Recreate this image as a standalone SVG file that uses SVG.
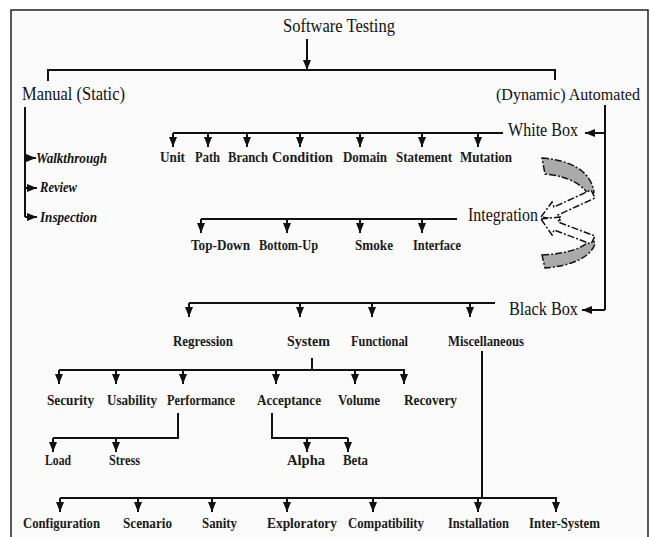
<svg xmlns="http://www.w3.org/2000/svg" width="650" height="537" viewBox="0 0 650 537">
<defs>
<style>
text{font-family:"Liberation Serif","Times New Roman",serif;fill:#111}
.h{font-size:19px}
.s{font-size:14px;font-weight:bold;fill:#1a1a1a}
.i{font-size:14px;font-weight:bold;font-style:italic}
.c{fill:none;stroke:#111;stroke-width:2}
.a{marker-end:url(#ah)}
.rib{fill:#aaa;stroke:#111;stroke-width:1.5;stroke-dasharray:7 2 2 2}
.wa{fill:#fff;stroke:#111;stroke-width:1.5;stroke-dasharray:7 2 2 2}
</style>
<marker id="ah" markerUnits="userSpaceOnUse" markerWidth="10" markerHeight="10" viewBox="0 0 10 10" refX="10" refY="5" orient="auto"><path d="M0,1 L10,5 L0,9 z" fill="#111"/></marker>
</defs>
<rect x="0" y="0" width="650" height="537" fill="#fff"/>
<rect x="11" y="10" width="637" height="540" fill="#fbfbfb" stroke="#222" stroke-width="1.5"/>

<g id="connectors">
<path class="c a" d="M307,39 V70"/>
<path class="c" d="M48,81 V70 H555 V80"/>
<path class="c" d="M25,107 V217"/>
<path class="c a" d="M25,158 H36"/>
<path class="c a" d="M25,188 H37"/>
<path class="c a" d="M25,217 H37"/>
<path class="c" d="M605,105 V310"/>
<path class="c a" d="M605,133 H585"/>
<path class="c a" d="M605,310 H582"/>
<path class="c" d="M173,133 H503"/>
<path class="c a" d="M173,133 V147"/>
<path class="c a" d="M208,133 V147"/>
<path class="c a" d="M247,133 V147"/>
<path class="c a" d="M300,133 V147"/>
<path class="c a" d="M360,133 V147"/>
<path class="c a" d="M422,133 V147"/>
<path class="c a" d="M478,133 V147"/>
<path class="c" d="M201,219 H457"/>
<path class="c a" d="M201,219 V233"/>
<path class="c a" d="M287,219 V233"/>
<path class="c a" d="M360,219 V233"/>
<path class="c a" d="M422,219 V233"/>
<path class="c" d="M189,303 H495"/>
<path class="c a" d="M189,303 V317"/>
<path class="c a" d="M300,303 V317"/>
<path class="c a" d="M372,303 V317"/>
<path class="c a" d="M470,303 V317"/>
<path class="c" d="M312,358 V370"/>
<path class="c" d="M59,370 H405"/>
<path class="c a" d="M59,370 V384"/>
<path class="c a" d="M116,370 V384"/>
<path class="c a" d="M183,370 V384"/>
<path class="c a" d="M276,370 V384"/>
<path class="c a" d="M355,370 V384"/>
<path class="c a" d="M404,370 V384"/>
<path class="c" d="M178,413 V438 H53"/>
<path class="c a" d="M53,438 V452"/>
<path class="c a" d="M116,438 V452"/>
<path class="c" d="M272,413 V438 H348"/>
<path class="c a" d="M307,438 V452"/>
<path class="c a" d="M348,438 V452"/>
<path class="c" d="M482,351 V498"/>
<path class="c" d="M60,498 H557"/>
<path class="c a" d="M60,498 V512"/>
<path class="c a" d="M138,498 V512"/>
<path class="c a" d="M212,498 V512"/>
<path class="c a" d="M287,498 V512"/>
<path class="c a" d="M373,498 V512"/>
<path class="c a" d="M478,498 V512"/>
<path class="c a" d="M556,498 V512"/>
</g>

<g id="integration-arrows">
<path class="rib" d="M542,158 C566,160 590,168 594,192 L590,198 C585,185 568,176 545,174 Z"/>
<path class="rib" d="M542,255 C566,254 588,248 592,236 L595,244 C590,258 570,266 545,268 Z"/>
<polygon class="wa" points="541,217 552,202 554,207 591,190 595,198 558,215 560,220"/>
<polygon class="wa" points="541,219 560,217 558,222 595,236 591,244 554,230 552,235"/>
</g>

<g id="software-testing"><text class="h" x="283" y="32" font-size="20" textLength="112" lengthAdjust="spacingAndGlyphs">Software Testing</text></g>
<g id="manual"><text class="h" x="22" y="100" textLength="103" lengthAdjust="spacingAndGlyphs">Manual (Static)</text></g>
<g id="automated"><text class="h" x="496" y="100" style="font-size:17px" textLength="144" lengthAdjust="spacingAndGlyphs">(Dynamic) Automated</text></g>
<g id="walkthrough"><text class="i" x="36" y="163" textLength="71" lengthAdjust="spacingAndGlyphs">Walkthrough</text></g>
<g id="review"><text class="i" x="40" y="192" textLength="37" lengthAdjust="spacingAndGlyphs">Review</text></g>
<g id="inspection"><text class="i" x="40" y="222" textLength="57" lengthAdjust="spacingAndGlyphs">Inspection</text></g>
<g id="white-box"><text class="h" x="508" y="136" textLength="70" lengthAdjust="spacingAndGlyphs">White Box</text></g>
<g id="unit"><text class="s" x="160" y="162" textLength="25" lengthAdjust="spacingAndGlyphs">Unit</text></g>
<g id="path"><text class="s" x="195" y="162" textLength="25" lengthAdjust="spacingAndGlyphs">Path</text></g>
<g id="branch"><text class="s" x="228" y="162" textLength="40" lengthAdjust="spacingAndGlyphs">Branch</text></g>
<g id="condition"><text class="s" x="272" y="162" textLength="61" lengthAdjust="spacingAndGlyphs">Condition</text></g>
<g id="domain"><text class="s" x="343" y="162" textLength="44" lengthAdjust="spacingAndGlyphs">Domain</text></g>
<g id="statement"><text class="s" x="396" y="162" textLength="56" lengthAdjust="spacingAndGlyphs">Statement</text></g>
<g id="mutation"><text class="s" x="460" y="162" textLength="52" lengthAdjust="spacingAndGlyphs">Mutation</text></g>
<g id="integration"><text class="h" x="468" y="221" textLength="70" lengthAdjust="spacingAndGlyphs">Integration</text></g>
<g id="top-down"><text class="s" x="191" y="250" textLength="59" lengthAdjust="spacingAndGlyphs">Top-Down</text></g>
<g id="bottom-up"><text class="s" x="259" y="250" textLength="59" lengthAdjust="spacingAndGlyphs">Bottom-Up</text></g>
<g id="smoke"><text class="s" x="355" y="250" textLength="38" lengthAdjust="spacingAndGlyphs">Smoke</text></g>
<g id="interface"><text class="s" x="413" y="250" textLength="48" lengthAdjust="spacingAndGlyphs">Interface</text></g>
<g id="black-box"><text class="h" x="509" y="315" textLength="69" lengthAdjust="spacingAndGlyphs">Black Box</text></g>
<g id="regression"><text class="s" x="173" y="346" textLength="60" lengthAdjust="spacingAndGlyphs">Regression</text></g>
<g id="system"><text class="s" x="287" y="346" textLength="43" lengthAdjust="spacingAndGlyphs">System</text></g>
<g id="functional"><text class="s" x="351" y="346" textLength="57" lengthAdjust="spacingAndGlyphs">Functional</text></g>
<g id="miscellaneous"><text class="s" x="448" y="346" textLength="76" lengthAdjust="spacingAndGlyphs">Miscellaneous</text></g>
<g id="security"><text class="s" x="47" y="405" textLength="47" lengthAdjust="spacingAndGlyphs">Security</text></g>
<g id="usability"><text class="s" x="107" y="405" textLength="50" lengthAdjust="spacingAndGlyphs">Usability</text></g>
<g id="performance"><text class="s" x="167" y="405" textLength="68" lengthAdjust="spacingAndGlyphs">Performance</text></g>
<g id="acceptance"><text class="s" x="257" y="405" textLength="64" lengthAdjust="spacingAndGlyphs">Acceptance</text></g>
<g id="volume"><text class="s" x="338" y="405" textLength="42" lengthAdjust="spacingAndGlyphs">Volume</text></g>
<g id="recovery"><text class="s" x="404" y="405" textLength="53" lengthAdjust="spacingAndGlyphs">Recovery</text></g>
<g id="load"><text class="s" x="45" y="465" textLength="26" lengthAdjust="spacingAndGlyphs">Load</text></g>
<g id="stress"><text class="s" x="109" y="465" textLength="31" lengthAdjust="spacingAndGlyphs">Stress</text></g>
<g id="alpha"><text class="s" x="287" y="465" textLength="38" lengthAdjust="spacingAndGlyphs">Alpha</text></g>
<g id="beta"><text class="s" x="343" y="465" textLength="25" lengthAdjust="spacingAndGlyphs">Beta</text></g>
<g id="configuration"><text class="s" x="23" y="528" textLength="77" lengthAdjust="spacingAndGlyphs">Configuration</text></g>
<g id="scenario"><text class="s" x="123" y="528" textLength="49" lengthAdjust="spacingAndGlyphs">Scenario</text></g>
<g id="sanity"><text class="s" x="202" y="528" textLength="35" lengthAdjust="spacingAndGlyphs">Sanity</text></g>
<g id="exploratory"><text class="s" x="267" y="528" textLength="70" lengthAdjust="spacingAndGlyphs">Exploratory</text></g>
<g id="compatibility"><text class="s" x="348" y="528" textLength="76" lengthAdjust="spacingAndGlyphs">Compatibility</text></g>
<g id="installation"><text class="s" x="448" y="528" textLength="61" lengthAdjust="spacingAndGlyphs">Installation</text></g>
<g id="inter-system"><text class="s" x="529" y="528" textLength="71" lengthAdjust="spacingAndGlyphs">Inter-System</text></g>
</svg>
